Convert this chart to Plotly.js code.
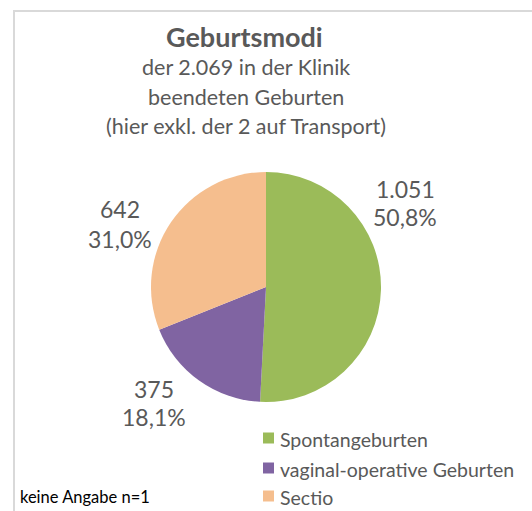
<!DOCTYPE html>
<html>
<head>
<meta charset="utf-8">
<script src="https://cdn.plot.ly/plotly-3.0.1.min.js"></script>
<style>html,body{margin:0;padding:0;background:#fff;}#chart{width:532px;height:511px;}</style>
</head>
<body>
<div id="chart"></div>
<script>
// ---- data ----
const categories = ['Spontangeburten', 'vaginal-operative Geburten', 'Sectio'];
const counts = [1051, 375, 642];
const sliceColors = ['#9BBB59', '#8064A2', '#F5BE8E'];
const titleText = 'Geburtsmodi';
const subtitleLines = ['der 2.069 in der Klinik', 'beendeten Geburten', '(hier exkl. der 2 auf Transport)'];
const noteText = 'keine Angabe n=1';

// ---- helpers ----
const W = 532, H = 511;
const px = x => x / W;
const py = y => 1 - y / H;
const total = counts.reduce((a, b) => a + b, 0);
const fmtNum = n => String(n).replace(/\B(?=(\d{3})+(?!\d))/g, '.');
const fmtPct = n => (n / total * 100).toFixed(1).replace('.', ',') + '%';

const FONT = 'Lato, "Open Sans", sans-serif';
const GREY = '#595959';

// label layout (pixel centres of the two text lines per slice)
const labelPos = [
  {x: 405, y1: 189, y2: 217},
  {x: 154, y1: 389, y2: 417},
  {x: 120, y1: 209, y2: 239}
];

const annotations = [];
const shapes = [];
annotations.push({text: '<b>' + titleText + '</b>', x: px(244), y: py(36), xref: 'paper', yref: 'paper',
  xanchor: 'center', yanchor: 'middle', showarrow: false, font: {family: FONT, size: 27, color: GREY}});
const subY = [67, 97, 126];
subtitleLines.forEach((t, i) => annotations.push({text: t, x: px(246), y: py(subY[i]), xref: 'paper', yref: 'paper',
  xanchor: 'center', yanchor: 'middle', showarrow: false, font: {family: FONT, size: 21.5, color: GREY}}));
counts.forEach((c, i) => {
  const p = labelPos[i];
  annotations.push({text: fmtNum(c), x: px(p.x), y: py(p.y1), xref: 'paper', yref: 'paper',
    xanchor: 'center', yanchor: 'middle', showarrow: false, font: {family: FONT, size: 23, color: GREY}});
  annotations.push({text: fmtPct(c), x: px(p.x), y: py(p.y2), xref: 'paper', yref: 'paper',
    xanchor: 'center', yanchor: 'middle', showarrow: false, font: {family: FONT, size: 23, color: GREY}});
});
annotations.push({text: noteText, x: px(18), y: py(497), xref: 'paper', yref: 'paper',
  xanchor: 'left', yanchor: 'middle', showarrow: false, font: {family: FONT, size: 16.5, color: '#000000'}});

// legend (drawn as swatches + labels)
const legendY = [438, 468, 496];
categories.forEach((cat, i) => {
  const yc = legendY[i];
  shapes.push({type: 'rect', xref: 'paper', yref: 'paper',
    x0: px(263), x1: px(274), y0: py(yc + 5.5), y1: py(yc - 5.5),
    fillcolor: sliceColors[i], line: {width: 0}});
  annotations.push({text: cat, x: px(278), y: py(yc + 1), xref: 'paper', yref: 'paper',
    xanchor: 'left', yanchor: 'middle', showarrow: false, font: {family: FONT, size: 19.5, color: GREY}});
});

// frame
shapes.push({type: 'path', xref: 'paper', yref: 'paper',
  path: 'M ' + px(14) + ' ' + py(H + 5) + ' L ' + px(14) + ' ' + py(11) + ' L ' + px(W + 5) + ' ' + py(11),
  line: {color: '#D9D9D9', width: 2}});

// pie geometry: centre (266,287), radius 115
const cx = 266, cy = 287, r = 115;

const trace = {
  type: 'pie',
  labels: categories,
  values: counts,
  sort: false,
  direction: 'clockwise',
  rotation: 0,
  marker: {colors: sliceColors, line: {width: 0}},
  textinfo: 'none',
  hoverinfo: 'label+value+percent',
  showlegend: false,
  domain: {x: [px(cx - r), px(cx + r)], y: [py(cy + r), py(cy - r)]}
};

const layout = {
  width: W, height: H,
  margin: {l: 0, r: 0, t: 0, b: 0},
  paper_bgcolor: '#ffffff',
  showlegend: false,
  annotations: annotations,
  shapes: shapes
};

Plotly.newPlot('chart', [trace], layout, {displayModeBar: false, staticPlot: true});
</script>
</body>
</html>
